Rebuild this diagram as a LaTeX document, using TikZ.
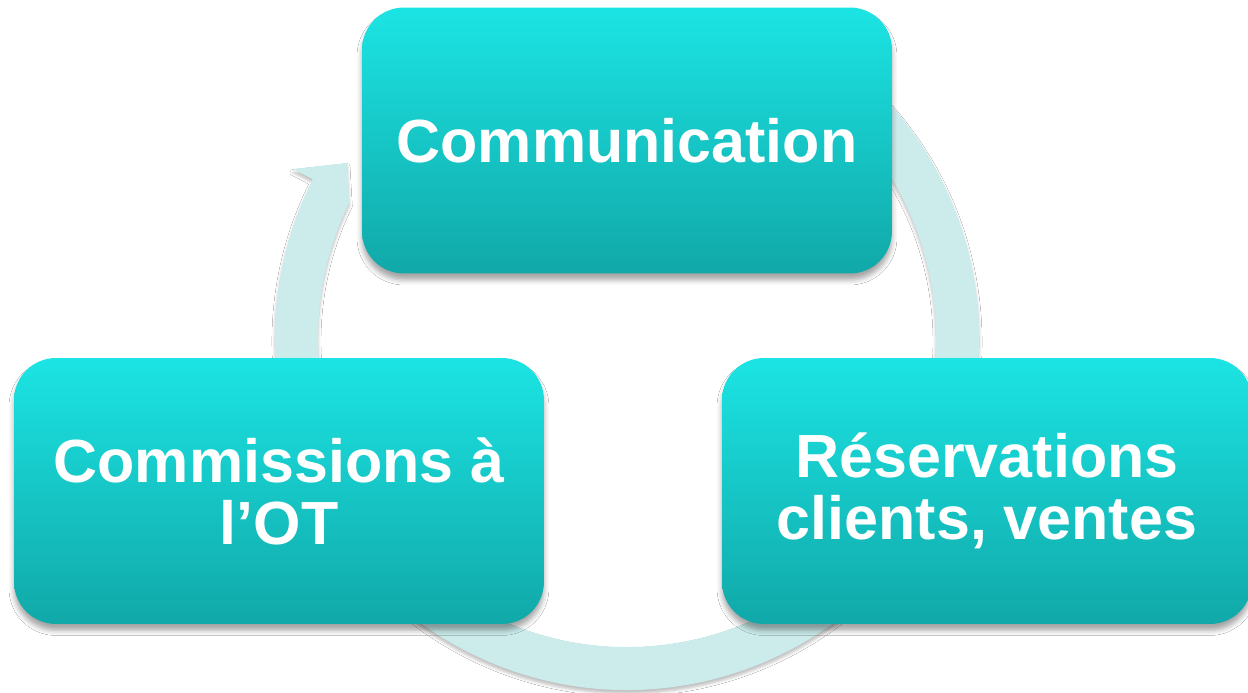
\documentclass[tikz,border=0pt]{standalone}
\usepackage{fontspec}
\setmainfont{Liberation Sans}
\usetikzlibrary{shadows.blur}
\definecolor{ringfill}{RGB}{204,236,236}
\definecolor{boxtop}{RGB}{28,228,228}
\definecolor{boxbottom}{RGB}{17,168,168}
\begin{document}
\begin{tikzpicture}[x=0.02cm,y=0.02cm,
  stage/.style={rounded corners=0.84cm, top color=boxtop, bottom color=boxbottom,
    minimum width=10.6cm, minimum height=5.32cm, inner sep=0pt,
    align=center, text=white, font=\bfseries\fontsize{34.7}{35.3}\selectfont,
    blur shadow={shadow xshift=0pt, shadow yshift=-0.13cm,
      shadow blur radius=0.1cm, shadow opacity=35}},
  cyclearrow/.style={fill=ringfill,
    blur shadow={shadow xshift=0pt, shadow yshift=-0.07cm,
      shadow blur radius=0.06cm, shadow opacity=25}}
]
\useasboundingbox (-627,-355) rectangle (621,338);
\fill[white] (-627,-355) rectangle (621,338);

% circular arrow running clockwise behind the three stages
\path[cyclearrow] (60:352) arc[start angle=60, end angle=-206.8, radius=352]
  -- (-334,169) -- (-280,175) -- (-277.7,135.5)
  arc[start angle=-206, end angle=60, radius=309] -- cycle;

% stages
\node[stage] (com) at (0,197.5) {Communication};
\node[stage] (res) at (360,-153) {Réservations\\clients, ventes};
\node[stage] (ot)  at (-348,-153) {Commissions à\\l’OT};
\end{tikzpicture}
\end{document}
